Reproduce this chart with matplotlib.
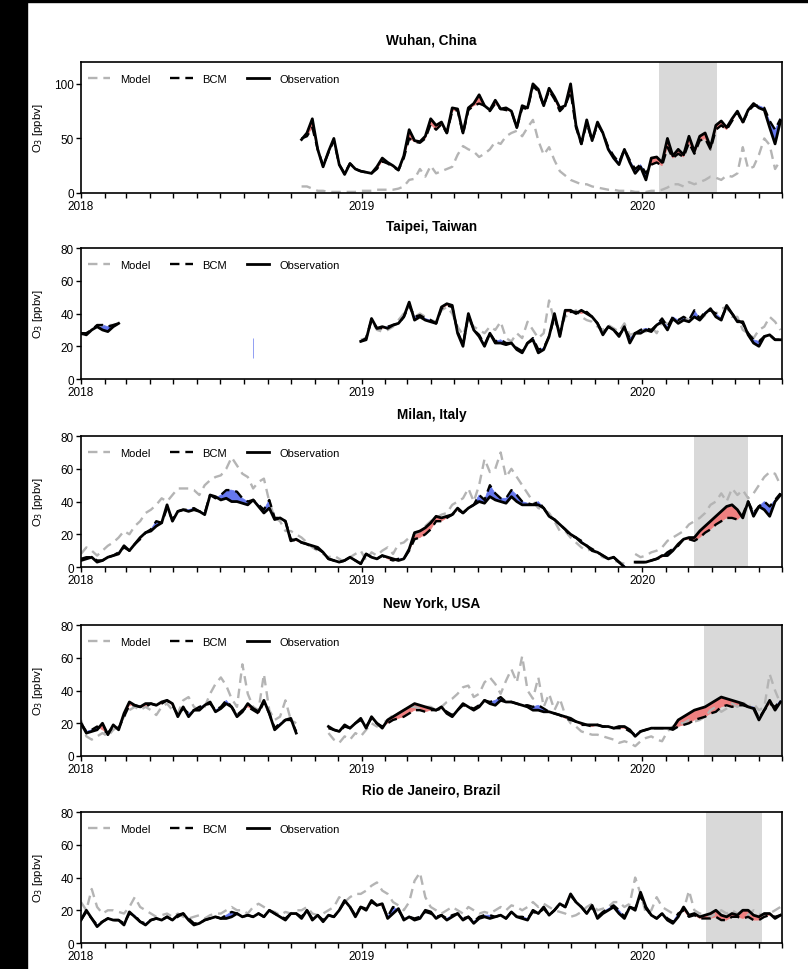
import numpy as np
import pandas as pd
import matplotlib
matplotlib.use("Agg")
import matplotlib.pyplot as plt
import matplotlib.dates as mdates
from matplotlib.patches import Rectangle

plt.rcParams['font.family'] = ['Liberation Sans', 'DejaVu Sans']

nan = np.nan
weeks = pd.date_range('2018-01-01', periods=131, freq='7D')

# ---------------- Wuhan (weeks 41-130) ----------------
wuhan_obs = [nan] * 41 + [
    49, 55, 68, 40, 24, 38, 50, 26, 17, 27,
    22, 20, 19, 18, 24, 32, 28, 25, 21, 34,
    58, 48, 47, 52, 68, 62, 65, 55, 78, 77,
    55, 78, 82, 90, 80, 76, 85, 77, 78, 75,
    60, 80, 78, 100, 95, 80, 96, 88, 78, 80,
    100, 62, 45, 67, 48, 65, 55, 40, 32, 26,
    40, 28, 18, 24, 12, 32, 33, 28, 50, 34,
    40, 35, 52, 38, 52, 55, 42, 62, 66, 60,
    68, 75, 65, 76, 82, 78, 76, 60, 45, 66]
wuhan_bcm = [nan] * 41 + [
    50, 52, 60, 40, 25, 37, 48, 26, 18, 27,
    22, 20, 19, 18, 22, 29, 27, 24, 21, 32,
    50, 47, 46, 50, 63, 58, 63, 55, 75, 76,
    54, 76, 80, 82, 80, 75, 82, 77, 76, 75,
    60, 78, 77, 98, 93, 80, 94, 86, 75, 80,
    93, 60, 45, 64, 48, 63, 55, 42, 34, 28,
    40, 30, 22, 26, 18, 26, 28, 25, 42, 32,
    36, 33, 46, 36, 48, 50, 40, 58, 62, 58,
    66, 74, 64, 75, 80, 80, 78, 66, 58, 68]
wuhan_model = [nan] * 41 + [
    6, 6, 4, 2, 2, 1, 1, 1, 1, 1,
    1, 2, 2, 2, 3, 3, 3, 3, 4, 6,
    12, 13, 22, 15, 25, 18, 20, 22, 24, 35,
    43, 40, 38, 33, 36, 40, 47, 45, 52, 55,
    57, 52, 60, 67, 48, 35, 42, 30, 20, 16,
    12, 10, 8, 8, 6, 5, 4, 3, 3, 2,
    2, 2, 1, 1, 1, 2, 2, 3, 5, 8,
    8, 6, 10, 8, 10, 12, 15, 14, 12, 16,
    15, 18, 42, 22, 24, 35, 50, 44, 22, 30]

# ---------------- Taipei ----------------
taipei_obs = [28, 27, 30, 32, 30, 29, 32, 34] + [nan] * 24 + [13] + [nan] * 19 + [
    23, 24, 37, 31, 32, 31, 33, 34, 38, 47,
    36, 38, 36, 35, 34, 44, 46, 45, 28, 20,
    40, 30, 26, 20, 28, 22, 22, 21, 22, 18,
    16, 22, 24, 16, 18, 26, 40, 26, 42, 42,
    40, 42, 40, 38, 34, 27, 32, 30, 26, 32,
    22, 28, 28, 30, 29, 33, 35, 30, 37, 34,
    36, 35, 38, 36, 40, 43, 38, 36, 45, 40,
    35, 35, 27, 22, 20, 26, 27, 24, 24]
taipei_bcm = [28, 28, 30, 33, 33, 32, 33, 34] + [nan] * 24 + [25] + [nan] * 19 + [
    23, 25, 36, 31, 31, 32, 33, 34, 38, 45,
    38, 39, 37, 36, 34, 43, 45, 44, 29, 21,
    39, 30, 27, 21, 28, 23, 24, 22, 22, 19,
    17, 22, 25, 18, 19, 26, 38, 27, 41, 41,
    41, 40, 41, 38, 34, 28, 32, 30, 27, 31,
    25, 28, 30, 31, 30, 33, 37, 32, 38, 36,
    38, 36, 42, 37, 41, 42, 40, 37, 44, 40,
    36, 34, 28, 24, 23, 26, 27, 24, 24]
taipei_model = [27, 28, 30, 32, 33, 33, 33, 34] + [nan] * 44 + [
    24, 25, 36, 30, 29, 30, 32, 36, 40, 44,
    38, 40, 38, 36, 35, 42, 44, 40, 32, 27,
    36, 32, 30, 28, 32, 30, 35, 25, 23, 28,
    25, 35, 30, 25, 28, 48, 35, 30, 38, 40,
    42, 38, 36, 35, 32, 30, 33, 31, 29, 34,
    27, 28, 30, 29, 32, 28, 35, 34, 36, 35,
    38, 36, 38, 36, 39, 42, 40, 43, 44, 38,
    38, 30, 28, 25, 30, 32, 38, 35, 30]

# ---------------- Milan ----------------
milan_obs = [
    4, 5, 6, 3, 4, 6, 7, 8, 13, 10,
    14, 18, 21, 22, 25, 27, 38, 28, 34, 35,
    34, 35, 34, 32, 44, 43, 41, 42, 40, 40,
    39, 38, 41, 37, 33, 36, 29, 30, 28, 16,
    17, 15, 14, 13, 12, 9, 5, 4, 3, 4,
    6, 4, 2, 8, 6, 5, 7, 6, 5, 4,
    5, 11, 21, 22, 24, 27, 31, 30, 31, 32,
    36, 33, 36, 38, 40, 39, 43, 41, 40, 39,
    43, 40, 38, 38, 38, 38, 36, 31, 29, 26,
    23, 20, 18, 15, 13, 10, 9, 7, 5, 6,
    3, 0, nan, 3, 3, 3, 4, 5, 7, 7,
    10, 14, 17, 18, 18, 22, 25, 28, 31, 34,
    37, 38, 35, 30, 40, 31, 37, 35, 31, 40, 44]
milan_bcm = [
    5, 6, 6, 4, 4, 6, 7, 9, 12, 10,
    14, 17, 21, 23, 28, 27, 36, 29, 34, 35,
    35, 36, 34, 33, 44, 42, 44, 47, 47, 46,
    42, 40, 41, 38, 35, 41, 30, 30, 28, 17,
    16, 15, 14, 12, 11, 9, 5, 4, 3, 4,
    6, 4, 2, 8, 6, 5, 7, 5, 4, 5,
    5, 10, 17, 18, 20, 23, 28, 28, 30, 32,
    35, 33, 36, 38, 44, 41, 50, 45, 42, 42,
    47, 44, 40, 39, 38, 40, 36, 31, 29, 26,
    23, 19, 18, 16, 13, 11, 9, 7, 5, 6,
    3, 1, nan, 3, 3, 3, 4, 5, 6, 9,
    11, 13, 17, 17, 16, 18, 21, 23, 26, 28,
    30, 30, 29, 32, 40, 33, 37, 40, 37, 41, 45]
milan_model = [
    8, 12, 10, 7, 10, 13, 15, 18, 22, 20,
    25, 28, 33, 35, 38, 42, 40, 44, 48, 48,
    48, 47, 44, 50, 53, 55, 56, 60, 67, 62,
    57, 55, 48, 52, 54, 40, 30, 28, 22, 22,
    20, 18, 15, 12, 10, 8, 6, 7, 5, 3,
    6, 8, 10, 4, 9, 7, 10, 12, 8, 14,
    15, 18, 20, 22, 25, 28, 30, 32, 33, 38,
    40, 42, 48, 40, 50, 66, 58, 60, 70, 55,
    60, 55, 50, 45, 40, 36, 35, 33, 28, 22,
    22, 18, 15, 12, 10, 11, 8, 6, 5, 4,
    3, 2, nan, 8, 6, 7, 9, 10, 12, 16,
    18, 20, 22, 26, 28, 30, 33, 38, 40, 45,
    40, 48, 44, 47, 42, 45, 50, 55, 58, 57, 50]

# ---------------- New York ----------------
ny_obs = [
    20, 14, 15, 16, 20, 13, 19, 16, 26, 33,
    31, 30, 32, 32, 31, 33, 34, 32, 24, 30,
    24, 28, 28, 31, 33, 27, 29, 32, 30, 24,
    27, 32, 29, 27, 34, 26, 16, 19, 22, 23,
    14] + [nan] * 5 + [
    18, 16, 15, 19, 17, 20, 23, 17, 24, 20,
    17, 22, 24, 26, 28, 30, 32, 31, 30, 29,
    28, 30, 26, 24, 28, 32, 30, 28, 30, 34,
    32, 31, 34, 33, 33, 32, 31, 30, 28, 28,
    27, 27, 26, 25, 24, 23, 21, 20, 19, 19,
    19, 18, 18, 17, 18, 18, 16, 12, 15, 16,
    17, 17, 17, 17, 17, 22, 24, 26, 28, 29,
    30, 32, 34, 36, 35, 34, 33, 32, 30, 29,
    22, 28, 34, 28, 33]
ny_bcm = [
    20, 15, 16, 18, 16, 14, 18, 17, 24, 31,
    31, 30, 30, 32, 31, 32, 34, 31, 25, 29,
    26, 28, 30, 31, 32, 28, 30, 34, 30, 25,
    28, 30, 28, 26, 33, 26, 17, 20, 22, 22,
    15] + [nan] * 5 + [
    17, 16, 15, 18, 17, 20, 22, 18, 23, 20,
    18, 20, 22, 23, 24, 26, 28, 28, 27, 28,
    28, 29, 27, 25, 28, 31, 30, 29, 31, 34,
    33, 34, 36, 33, 33, 32, 31, 31, 30, 31,
    29, 27, 26, 25, 23, 22, 21, 19, 19, 18,
    19, 18, 18, 17, 17, 17, 15, 13, 15, 16,
    17, 17, 17, 17, 16, 18, 19, 20, 22, 23,
    24, 26, 27, 30, 31, 30, 31, 31, 30, 30,
    23, 28, 32, 30, 34]
ny_model = [
    22, 12, 10, 12, 14, 12, 16, 18, 24, 28,
    30, 28, 30, 28, 25, 30, 32, 28, 26, 34,
    36, 30, 28, 30, 38, 44, 48, 43, 35, 30,
    56, 38, 30, 28, 50, 28, 22, 24, 34, 22,
    20] + [nan] * 5 + [
    14, 10, 8, 12, 10, 14, 12, 16, 20, 18,
    20, 22, 25, 26, 28, 30, 30, 29, 30, 30,
    28, 30, 33, 35, 38, 42, 43, 36, 38, 45,
    48, 44, 38, 46, 53, 45, 61, 40, 35, 48,
    30, 38, 28, 35, 25, 20, 18, 15, 14, 13,
    13, 12, 11, 10, 8, 9, 8, 6, 9, 11,
    12, 10, 9, 15, 18, 20, 20, 22, 21, 22,
    24, 28, 30, 27, 29, 32, 30, 33, 30, 32,
    28, 30, 50, 40, 32]

# ---------------- Rio de Janeiro ----------------
rio_obs = [
    14, 20, 15, 10, 13, 15, 14, 14, 11, 19,
    16, 13, 11, 14, 15, 14, 16, 14, 17, 18,
    14, 11, 12, 14, 15, 16, 15, 15, 16, 18,
    16, 17, 16, 18, 16, 20, 18, 16, 14, 18,
    18, 15, 20, 14, 17, 13, 17, 16, 20, 26,
    22, 16, 22, 20, 26, 23, 24, 15, 18, 21,
    14, 16, 14, 15, 20, 19, 15, 17, 14, 16,
    18, 14, 16, 12, 15, 16, 15, 16, 17, 15,
    19, 16, 15, 14, 20, 18, 22, 17, 20, 24,
    22, 30, 25, 22, 18, 23, 15, 18, 20, 22,
    18, 15, 22, 20, 31, 22, 17, 15, 18, 14,
    12, 16, 22, 17, 18, 16, 17, 18, 20, 17,
    16, 18, 17, 20, 20, 17, 16, 18, 18, 15, 17]
rio_bcm = [
    14, 19, 15, 11, 13, 15, 14, 14, 12, 18,
    17, 13, 12, 14, 15, 14, 16, 14, 16, 18,
    15, 12, 12, 14, 15, 16, 15, 17, 19, 18,
    16, 17, 16, 18, 16, 20, 18, 16, 15, 18,
    18, 16, 20, 15, 17, 14, 17, 16, 20, 25,
    22, 17, 22, 21, 25, 23, 23, 16, 22, 20,
    15, 16, 15, 16, 19, 18, 16, 17, 15, 17,
    18, 15, 16, 13, 16, 17, 17, 16, 17, 15,
    19, 16, 16, 15, 19, 18, 21, 17, 20, 24,
    22, 29, 25, 22, 18, 22, 16, 19, 21, 23,
    20, 16, 22, 21, 29, 21, 17, 15, 18, 15,
    13, 18, 20, 16, 17, 15, 15, 15, 16, 14,
    14, 16, 16, 15, 16, 14, 14, 16, 17, 16, 17]
rio_model = [
    25, 20, 33, 22, 18, 20, 20, 19, 18, 22,
    28, 22, 20, 18, 16, 17, 18, 16, 18, 16,
    15, 16, 17, 15, 17, 18, 18, 20, 22, 20,
    20, 18, 22, 24, 22, 20, 19, 17, 19, 18,
    20, 20, 22, 18, 17, 18, 20, 22, 28, 25,
    28, 30, 30, 32, 35, 37, 32, 30, 25, 23,
    20, 25, 38, 43, 28, 22, 20, 18, 20, 22,
    20, 18, 22, 20, 18, 19, 18, 20, 22, 20,
    23, 22, 20, 22, 25, 22, 24, 22, 20, 19,
    18, 16, 17, 19, 22, 24, 20, 21, 22, 25,
    25, 22, 24, 40, 30, 18, 20, 28, 22, 20,
    18, 18, 20, 32, 20, 18, 18, 16, 18, 20,
    18, 20, 18, 19, 17, 20, 18, 16, 18, 20, 22]

titles = ['Wuhan, China', 'Taipei, Taiwan', 'Milan, Italy',
          'New York, USA', 'Rio de Janeiro, Brazil']
obs_all = [wuhan_obs, taipei_obs, milan_obs, ny_obs, rio_obs]
bcm_all = [wuhan_bcm, taipei_bcm, milan_bcm, ny_bcm, rio_bcm]
model_all = [wuhan_model, taipei_model, milan_model, ny_model, rio_model]
ymax = [120, 80, 80, 80, 80]
yticks = [[0, 50, 100], [0, 20, 40, 60, 80], [0, 20, 40, 60, 80],
          [0, 20, 40, 60, 80], [0, 20, 40, 60, 80]]
# lockdown periods (None = no shading)
lockdowns = [('2020-01-23', '2020-04-08'), None, ('2020-03-09', '2020-05-18'),
             ('2020-03-22', '2020-07-01'), ('2020-03-24', '2020-06-05')]

RED = '#ef8080'
BLUE = '#6678ee'

fig = plt.figure(figsize=(8.08, 9.70), dpi=100)
fig.patch.set_facecolor('white')
# dark margins along the left and top edges
fig.add_artist(Rectangle((0, 0), 27 / 808, 1, transform=fig.transFigure,
                         color='black', zorder=-5))
fig.add_artist(Rectangle((0, 1 - 3 / 970), 1, 3 / 970, transform=fig.transFigure,
                         color='black', zorder=-5))

bottoms = [0.800, 0.6082, 0.4144, 0.2196, 0.0268]
left, width, height = 0.1002, 0.8676, 0.1350

for i in range(5):
    ax = fig.add_axes([left, bottoms[i], width, height])
    obs = np.array(obs_all[i], dtype=float)
    bcm = np.array(bcm_all[i], dtype=float)
    mod = np.array(model_all[i], dtype=float)

    if lockdowns[i] is not None:
        ax.axvspan(pd.Timestamp(lockdowns[i][0]), pd.Timestamp(lockdowns[i][1]),
                   color='#d9d9d9', lw=0, zorder=0)

    ax.fill_between(weeks, obs, bcm, where=obs >= bcm, interpolate=True,
                    facecolor=RED, edgecolor=RED, lw=0.5, zorder=1)
    ax.fill_between(weeks, obs, bcm, where=obs < bcm, interpolate=True,
                    facecolor=BLUE, edgecolor=BLUE, lw=0.5, zorder=1)

    ax.plot(weeks, mod, color='#b4b4b4', ls=(0, (4, 2.5)), lw=1.7,
            label='Model', zorder=2)
    ax.plot(weeks, bcm, color='black', ls=(0, (4, 2.5)), lw=1.7,
            label='BCM', zorder=3)
    ax.plot(weeks, obs, color='black', lw=2.0, label='Observation', zorder=4)

    ax.set_xlim(pd.Timestamp('2018-01-01'), pd.Timestamp('2020-07-01'))
    ax.set_ylim(0, ymax[i])
    ax.set_yticks(yticks[i])
    ax.xaxis.set_major_locator(mdates.YearLocator())
    ax.xaxis.set_major_formatter(mdates.DateFormatter('%Y'))
    ax.xaxis.set_minor_locator(mdates.MonthLocator())
    ax.tick_params(axis='both', which='both', direction='out', length=3.5,
                   width=1, labelsize=8.5, pad=1.5)
    ax.tick_params(top=False, right=False)
    for s in ax.spines.values():
        s.set_linewidth(1.2)

    ax.set_title(titles[i], fontsize=9.8, fontweight='bold', pad=13)
    ax.set_ylabel('O$_3$ [ppbv]', fontsize=8.2)
    ax.yaxis.set_label_coords(-0.052, 0.5)
    ax.legend(loc='upper left', bbox_to_anchor=(0.005, 0.935), ncol=3,
              frameon=False, fontsize=8, handlelength=2.0, handletextpad=0.9,
              columnspacing=1.8, borderaxespad=0, borderpad=0.3)

fig.savefig('out.png', dpi=100, facecolor=fig.get_facecolor())
